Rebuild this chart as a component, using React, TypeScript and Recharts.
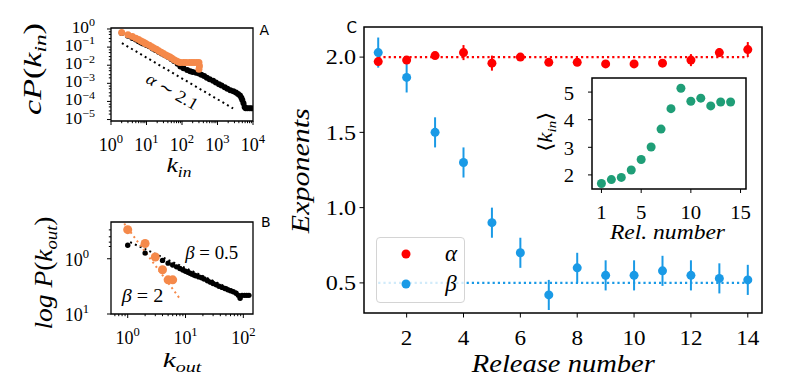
import React from "react";
import {
  ScatterChart,
  Scatter,
  XAxis,
  YAxis,
  ReferenceLine,
  ReferenceArea,
  ErrorBar,
  Legend,
} from "recharts";

const SERIF = '"Liberation Serif", "DejaVu Serif", serif';
const SANS = '"DejaVu Sans", Arial, sans-serif';

const RED = "#ff0000";
const BLUE = "#1a9ae6";
const ORANGE = "#f5894a";
const GREEN = "#1f9e77";

// ---- panel A: cumulative in-degree distribution
const inAllK = [2, 3, 4, 5, 6, 7, 8, 10, 12, 15, 18, 22, 27, 33, 40, 50, 60, 75, 90, 110, 140, 170, 200, 250, 300, 350, 420, 500, 600, 750, 900, 1100, 1300, 1600, 1900, 2300, 2800, 3300, 3800, 4300, 4700, 5000, 5400, 5800, 6200, 7000, 8000, 9000];
const inAllCP = [0.6, 0.42, 0.32, 0.26, 0.21, 0.18, 0.16, 0.13, 0.11, 0.085, 0.07, 0.056, 0.045, 0.036, 0.029, 0.022, 0.017, 0.012, 0.0085, 0.0068, 0.0055, 0.0047, 0.0042, 0.0038, 0.0035, 0.003, 0.0025, 0.002, 0.0017, 0.0014, 0.0011, 0.0009, 0.00075, 0.0006, 0.0005, 0.00042, 0.00036, 0.00031, 0.00026, 0.00021, 0.00016, 0.00012, 0.00008, 0.00005, 0.000042, 0.000042, 0.000042, 0.000042];
const inSubK = [2, 3, 4, 5, 6, 7, 8, 9, 10, 12, 14, 16, 19, 22, 26, 30, 35, 40, 46, 52, 60, 70, 80, 90, 110, 130, 160, 190, 220, 260, 300, 310, 300];
const inSubCP = [0.65, 0.48, 0.38, 0.31, 0.26, 0.22, 0.19, 0.17, 0.15, 0.125, 0.105, 0.09, 0.075, 0.062, 0.052, 0.044, 0.037, 0.032, 0.028, 0.024, 0.02, 0.017, 0.015, 0.014, 0.014, 0.014, 0.014, 0.014, 0.014, 0.014, 0.014, 0.009, 0.006];
const inFitK = [2.03, 2750];
const inFitCP = [0.166, 0.000041];

const A_X_MAJOR = [1, 10, 100, 1000, 10000];
const A_X_MINOR = [2, 3, 4, 5, 6, 7, 8, 9, 20, 30, 40, 50, 60, 70, 80, 90, 200, 300, 400, 500, 600, 700, 800, 900, 2000, 3000, 4000, 5000, 6000, 7000, 8000, 9000];
const A_Y_MAJOR = [0.00001, 0.0001, 0.001, 0.01, 0.1, 1];
const A_Y_MINOR = [0.00002, 0.00003, 0.00005, 0.00007, 0.0002, 0.0003, 0.0005, 0.0007, 0.002, 0.003, 0.005, 0.007, 0.02, 0.03, 0.05, 0.07, 0.2, 0.3, 0.5, 0.7];

// ---- panel B: out-degree distribution
const outAllK = [1, 2, 3, 4, 5, 6, 7, 8, 9, 10, 11, 12, 13, 14, 15, 17, 19, 21, 24, 27, 30, 34, 38, 43, 48, 54, 60, 67, 75, 82, 88, 95, 105, 115, 125];
const outAllP = [0.57, 0.79, 0.93, 1.07, 1.2, 1.3, 1.4, 1.5, 1.6, 1.68, 1.75, 1.83, 1.9, 1.97, 2.03, 2.13, 2.2, 2.32, 2.5, 2.65, 2.8, 2.95, 3.15, 3.3, 3.45, 3.65, 3.8, 3.95, 4.2, 4.6, 5.2, 4.6, 4.6, 4.6, 4.6];
const outSubK = [1, 2, 3, 4, 5, 6];
const outSubP = [0.297, 0.53, 0.93, 1.58, 2.41, 2.41];
const outFitHalfK = [1.1, 90];
const outFitHalfP = [0.5, 4.3];
const outFitTwoK = [0.87, 8];
const outFitTwoP = [0.23, 5.3];

const B_X_MAJOR = [1, 10, 100];
const B_X_MINOR = [0.6, 0.7, 0.8, 0.9, 2, 3, 4, 5, 6, 7, 8, 9, 20, 30, 40, 50, 60, 70, 80, 90];
const B_Y_MAJOR = [1, 10];
const B_Y_MINOR = [0.3, 0.4, 0.5, 0.6];

// ---- panel C: exponents per release
const releases = [1, 2, 3, 4, 5, 6, 7, 8, 9, 10, 11, 12, 13, 14];
const alpha = [1.97, 1.98, 2.01, 2.03, 1.96, 2.0, 1.965, 1.965, 1.955, 1.955, 1.96, 1.98, 2.03, 2.05];
const alphaErr = [0.02, 0.02, 0.02, 0.05, 0.05, 0.02, 0.02, 0.02, 0.02, 0.02, 0.02, 0.04, 0.03, 0.05];
const beta = [2.03, 1.865, 1.5, 1.3, 0.9, 0.7, 0.42, 0.6, 0.55, 0.55, 0.58, 0.55, 0.53, 0.52];
const betaErr = [0.1, 0.1, 0.1, 0.1, 0.1, 0.1, 0.1, 0.1, 0.1, 0.1, 0.1, 0.1, 0.1, 0.1];
const alphaRef = 2.0;
const betaRef = 0.5;
const C_X_TICKS = [2, 4, 6, 8, 10, 12, 14];
const C_Y_TICKS = [0.5, 1.0, 1.5, 2.0];
const LEGEND_NAMES = ["\u03b1", "\u03b2"];
const LEGEND_COLORS = [RED, BLUE];

// ---- inset: mean in-degree per release
const meanKin = [1.69, 1.83, 1.91, 2.18, 2.56, 3.01, 3.66, 4.4, 5.14, 4.67, 4.78, 4.5, 4.64, 4.64];
const INSET_X_TICKS = [1, 5, 10, 15];
const INSET_Y_TICKS = [2, 3, 4, 5];

const zip = (xs: number[], ys: number[], es?: number[]) =>
  xs.map((x, i) => ({ x, y: ys[i], e: es ? es[i] : 0 }));

const dot = (r: number, fill: string) => (p: any) =>
  p.cx == null ? <g /> : <circle cx={p.cx} cy={p.cy} r={r} fill={fill} />;

// outward tick + label; labels stretched a little sideways like the original
function AxisTick(props: any) {
  const { x, y, payload, side, fs, len, off, vshift = 0, sx = 1, minor, log, digits } = props;
  const v = payload.value;
  const isMinor = !!minor && minor.includes(v);
  const L = isMinor ? len * 0.55 : len;
  let base = "";
  let sup = "";
  if (!isMinor) {
    if (log) {
      const e = Math.round(Math.log10(v));
      base = "10";
      sup = e < 0 ? `\u2212${-e}` : `${e}`;
    } else {
      base = digits ? v.toFixed(digits) : String(v);
    }
  }
  const supEl = sup ? (
    <tspan dy={-fs * 0.42} fontSize={fs * 0.7}>
      {sup}
    </tspan>
  ) : null;
  const tx = side === "bottom" ? x : x - off;
  const ty = side === "bottom" ? y + off : y + vshift;
  return (
    <g>
      {side === "bottom" ? (
        <line x1={x} y1={y} x2={x} y2={y + L} stroke="#000" strokeWidth={1} />
      ) : (
        <line x1={x - L} y1={y} x2={x} y2={y} stroke="#000" strokeWidth={1} />
      )}
      {!isMinor && (
        <text
          transform={`translate(${tx},${ty}) scale(${sx},1)`}
          textAnchor={side === "bottom" ? "middle" : "end"}
          fontFamily={SERIF}
          fontSize={fs}
          fill="#000"
        >
          {base}
          {supEl}
        </text>
      )}
    </g>
  );
}

function PanelA() {
  const xd: [number, number] = [1, 10000];
  const yd: [number, number] = [0.0000083, 1.135];
  return (
    <div style={{ position: "absolute", left: 51, top: 8 }}>
      <ScatterChart width={222} height={153} margin={{ top: 20, right: 20, bottom: 0, left: 0 }}>
        <XAxis type="number" dataKey="x" scale="log" domain={xd} allowDataOverflow ticks={[...A_X_MAJOR, ...A_X_MINOR]} interval={0} height={40} axisLine={false} tickLine={false} tickSize={0} tickMargin={0}
          tick={<AxisTick side="bottom" fs={18} len={4} off={29.5} minor={A_X_MINOR} log />} />
        <YAxis type="number" dataKey="y" scale="log" domain={yd} allowDataOverflow ticks={[...A_Y_MAJOR, ...A_Y_MINOR]} interval={0} width={60} axisLine={false} tickLine={false} tickSize={0} tickMargin={0}
          tick={<AxisTick side="left" fs={16} len={4} off={16} vshift={4} sx={1.08} minor={A_Y_MINOR} log />} />
        <ReferenceArea x1={xd[0]} x2={xd[1]} y1={yd[0]} y2={yd[1]} fill="none" stroke="#000" strokeWidth={1.3} />
        <ReferenceLine segment={[{ x: inFitK[0], y: inFitCP[0] }, { x: inFitK[1], y: inFitCP[1] }]} stroke="#000" strokeWidth={2} strokeDasharray="2 3.3" />
        <Scatter data={zip(inAllK, inAllCP)} shape={dot(3, "#000")} isAnimationActive={false} />
        <Scatter data={zip(inSubK, inSubCP)} shape={dot(3.5, ORANGE)} isAnimationActive={false} />
      </ScatterChart>
    </div>
  );
}

function PanelB() {
  const xd: [number, number] = [0.514, 147];
  const yd: [number, number] = [0.216, 10];
  return (
    <div style={{ position: "absolute", left: 51, top: 212 }}>
      <ScatterChart width={222} height={142} margin={{ top: 10, right: 20, bottom: 0, left: 0 }}>
        <XAxis type="number" dataKey="x" scale="log" domain={xd} allowDataOverflow ticks={[...B_X_MAJOR, ...B_X_MINOR]} interval={0} height={40} axisLine={false} tickLine={false} tickSize={0} tickMargin={0}
          tick={<AxisTick side="bottom" fs={18} len={4} off={29.5} minor={B_X_MINOR} log />} />
        <YAxis type="number" dataKey="y" scale="log" reversed domain={yd} allowDataOverflow ticks={[...B_Y_MAJOR, ...B_Y_MINOR]} interval={0} width={60} axisLine={false} tickLine={false} tickSize={0} tickMargin={0}
          tick={<AxisTick side="left" fs={18} len={4} off={22} vshift={7} minor={B_Y_MINOR} log />} />
        <ReferenceArea x1={xd[0]} x2={xd[1]} y1={yd[0]} y2={yd[1]} fill="none" stroke="#000" strokeWidth={1.3} />
        <ReferenceLine segment={[{ x: outFitHalfK[0], y: outFitHalfP[0] }, { x: outFitHalfK[1], y: outFitHalfP[1] }]} stroke="#000" strokeWidth={2} strokeDasharray="2 3.3" />
        <ReferenceLine segment={[{ x: outFitTwoK[0], y: outFitTwoP[0] }, { x: outFitTwoK[1], y: outFitTwoP[1] }]} stroke={ORANGE} strokeWidth={2} strokeDasharray="2 3.3" />
        <Scatter data={zip(outAllK, outAllP)} shape={dot(2.7, "#000")} isAnimationActive={false} />
        <Scatter data={zip(outSubK, outSubP)} shape={dot(4.5, ORANGE)} isAnimationActive={false} />
      </ScatterChart>
    </div>
  );
}

function LegendBox() {
  return (
    <div style={{ width: 89, height: 66, boxSizing: "border-box", border: "1px solid #d4d4d4", borderRadius: 4, background: "rgba(255,255,255,0.8)", position: "relative" }}>
      {LEGEND_NAMES.map((n, i) => (
        <svg key={n} width={89} height={28} style={{ position: "absolute", left: 0, top: 2 + i * 30 }}>
          <circle cx={29} cy={14} r={4.5} fill={LEGEND_COLORS[i]} />
          <text x={74} y={21} textAnchor="middle" fontFamily={SERIF} fontStyle="italic" fontSize={23}>
            {n}
          </text>
        </svg>
      ))}
    </div>
  );
}

function PanelC() {
  const xd: [number, number] = [0.5, 14.5];
  const yd: [number, number] = [0.3, 2.2];
  return (
    <div style={{ position: "absolute", left: 314, top: 17 }}>
      <ScatterChart width={458} height={346} margin={{ top: 10, right: 10, bottom: 0, left: 0 }}>
        <XAxis type="number" dataKey="x" domain={xd} allowDataOverflow ticks={C_X_TICKS} interval={0} height={50} axisLine={false} tickLine={false} tickSize={0} tickMargin={0}
          tick={<AxisTick side="bottom" fs={21} len={4.5} off={31.5} sx={1.1} />} />
        <YAxis type="number" dataKey="y" domain={yd} allowDataOverflow ticks={C_Y_TICKS} interval={0} width={50} axisLine={false} tickLine={false} tickSize={0} tickMargin={0}
          tick={<AxisTick side="left" fs={21} len={4.5} off={8} vshift={7.3} sx={1.15} digits={1} />} />
        <ReferenceArea x1={xd[0]} x2={xd[1]} y1={yd[0]} y2={yd[1]} fill="none" stroke="#000" strokeWidth={1.5} />
        <ReferenceLine segment={[{ x: releases[0], y: alphaRef }, { x: releases[releases.length - 1], y: alphaRef }]} stroke={RED} strokeWidth={2.2} strokeDasharray="2.2 3" />
        <ReferenceLine segment={[{ x: releases[0], y: betaRef }, { x: releases[releases.length - 1], y: betaRef }]} stroke={BLUE} strokeWidth={2.2} strokeDasharray="2.2 3" />
        <Scatter data={zip(releases, alpha, alphaErr)} shape={dot(4.5, RED)} isAnimationActive={false}>
          <ErrorBar dataKey="e" direction="y" width={0} stroke={RED} strokeWidth={2} />
        </Scatter>
        <Scatter data={zip(releases, beta, betaErr)} shape={dot(4.5, BLUE)} isAnimationActive={false}>
          <ErrorBar dataKey="e" direction="y" width={0} stroke={BLUE} strokeWidth={2} />
        </Scatter>
        <Legend layout="horizontal" verticalAlign="middle" align="center" content={() => <LegendBox />}
          wrapperStyle={{ left: 61.7, top: 219.7, width: 89, height: 66 }} />
      </ScatterChart>
    </div>
  );
}

function Inset() {
  const xd: [number, number] = [0.05, 15.55];
  const yd: [number, number] = [1.49, 5.51];
  return (
    <div style={{ position: "absolute", left: 562, top: 68 }}>
      <ScatterChart width={204} height={161} margin={{ top: 10, right: 20, bottom: 0, left: 0 }}>
        <XAxis type="number" dataKey="x" domain={xd} allowDataOverflow ticks={INSET_X_TICKS} interval={0} height={40} axisLine={false} tickLine={false} tickSize={0} tickMargin={0}
          tick={<AxisTick side="bottom" fs={18} len={4} off={30} sx={1.15} />} />
        <YAxis type="number" dataKey="y" domain={yd} allowDataOverflow ticks={INSET_Y_TICKS} interval={0} width={30} axisLine={false} tickLine={false} tickSize={0} tickMargin={0}
          tick={<AxisTick side="left" fs={18} len={4} off={18} vshift={7.5} sx={1.15} />} />
        <ReferenceArea x1={xd[0]} x2={xd[1]} y1={yd[0]} y2={yd[1]} fill="none" stroke="#000" strokeWidth={1.5} />
        <Scatter data={zip(releases, meanKin)} shape={dot(4.5, GREEN)} isAnimationActive={false} />
      </ScatterChart>
    </div>
  );
}

function Annotations() {
  const it = { fontFamily: SERIF, fontStyle: "italic" as const, fill: "#000", lengthAdjust: "spacingAndGlyphs" };
  return (
    <svg width={789} height={382} style={{ position: "absolute", left: 0, top: 0, pointerEvents: "none" }}>
      <text x={259.5} y={35} fontFamily={SANS} fontSize={14}>A</text>
      <text x={261} y={226.5} fontFamily={SANS} fontSize={14}>B</text>
      <text x={346.5} y={33} fontFamily={SANS} fontSize={15}>C</text>

      <text transform="translate(33,69) rotate(-90)" y={8} textAnchor="middle" fontSize={25} textLength={92} {...it}>
        cP<tspan fontStyle="normal">(</tspan>k<tspan dy={5} fontSize={17}>in</tspan><tspan dy={-5} fontStyle="normal">)</tspan>
      </text>
      <text x={179} y={172} textAnchor="middle" fontSize={22} textLength={25} {...it}>
        k<tspan dy={5} fontSize={15}>in</tspan>
      </text>
      <text transform="translate(172,92) rotate(30)" y={5} textAnchor="middle" fontSize={17} textLength={57} {...it}>
        {"\u03b1 "}<tspan fontStyle="normal">{"\u223c 2.1"}</tspan>
      </text>

      <text transform="translate(44,273) rotate(-90)" y={8} textAnchor="middle" fontSize={25} textLength={113} {...it}>
        log P<tspan fontStyle="normal">(</tspan>k<tspan dy={5} fontSize={17}>out</tspan><tspan dy={-5} fontStyle="normal">)</tspan>
      </text>
      <text x={182} y={367} textAnchor="middle" fontSize={22} textLength={38.7} {...it}>
        k<tspan dy={5} fontSize={15}>out</tspan>
      </text>
      <text x={211.7} y={259} textAnchor="middle" fontSize={18} textLength={53} {...it}>
        {"\u03b2 "}<tspan fontStyle="normal">= 0.5</tspan>
      </text>
      <text x={142.5} y={302} textAnchor="middle" fontSize={18} textLength={41.6} {...it}>
        {"\u03b2 "}<tspan fontStyle="normal">= 2</tspan>
      </text>

      <text transform="translate(301.7,170.7) rotate(-90)" y={7} textAnchor="middle" fontSize={26} textLength={125} {...it}>
        Exponents
      </text>
      <text x={563.3} y={372} textAnchor="middle" fontSize={26} textLength={183} {...it}>
        Release number
      </text>
      <text transform="translate(546,131.7) rotate(-90)" y={6} textAnchor="middle" fontSize={20} textLength={40} lengthAdjust="spacingAndGlyphs" fill="#000" fontFamily={SERIF}>
        {"\u27e8"}<tspan fontStyle="italic">k</tspan><tspan dy={4} fontSize={13} fontStyle="italic">in</tspan><tspan dy={-4}>{"\u27e9"}</tspan>
      </text>
      <text x={667.5} y={239} textAnchor="middle" fontSize={20} textLength={115} {...it}>
        Rel. number
      </text>
    </svg>
  );
}

export default function App() {
  return (
    <div style={{ position: "absolute", left: 0, top: 0, width: 789, height: 382, background: "#fff" }}>
      <PanelA />
      <PanelB />
      <PanelC />
      <Inset />
      <Annotations />
    </div>
  );
}
